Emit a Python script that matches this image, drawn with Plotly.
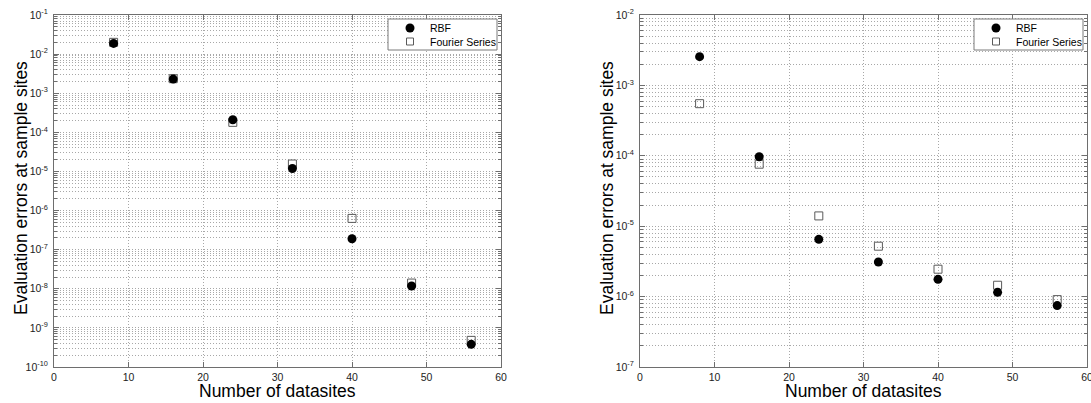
import plotly.graph_objects as go

# ---------------- data ----------------
datasites = [8, 16, 24, 32, 40, 48, 56]

left_rbf = [1.88e-2, 2.3e-3, 2.1e-4, 1.19e-5, 1.9e-7, 1.18e-8, 3.8e-10]
left_fourier = [2.0e-2, 2.35e-3, 1.8e-4, 1.55e-5, 6.3e-7, 1.4e-8, 4.8e-10]

right_rbf = [2.56e-3, 9.7e-5, 6.5e-6, 3.1e-6, 1.76e-6, 1.15e-6, 7.45e-7]
right_fourier = [5.5e-4, 7.6e-5, 1.40e-5, 5.2e-6, 2.45e-6, 1.45e-6, 9.06e-7]

x_ticks = [0, 10, 20, 30, 40, 50, 60]
left_decades = list(range(-10, 0))   # 1e-10 .. 1e-1
right_decades = list(range(-7, -1))  # 1e-7 .. 1e-2

x_title = "Number of datasites"
y_title = "Evaluation errors at sample sites"
names = ["RBF", "Fourier Series"]

# ---------------- figure ----------------
W, H = 1091, 403
FONT = "Liberation Sans, Arial, sans-serif"
AX = "#6e6e6e"
GRID = "#a8a8a8"
SQ = "#5a5a5a"
DOT = "1px,2px"


def px(x):
    return x / W


def py(y):
    return 1 - y / H


top, bottom = 15, 367
panels = [
    dict(l=54, r=501, xa="x", ya="y", rbf=left_rbf, four=left_fourier,
         dec=left_decades),
    dict(l=640, r=1087, xa="x2", ya="y2", rbf=right_rbf, four=right_fourier,
         dec=right_decades),
]

fig = go.Figure()

for p in panels:
    fig.add_trace(go.Scatter(
        x=datasites, y=p["four"], mode="markers", name=names[1],
        xaxis=p["xa"], yaxis=p["ya"], showlegend=False,
        marker=dict(symbol="square-open", size=8, color=SQ,
                    line=dict(width=1))))
    fig.add_trace(go.Scatter(
        x=datasites, y=p["rbf"], mode="markers", name=names[0],
        xaxis=p["xa"], yaxis=p["ya"], showlegend=False,
        marker=dict(symbol="circle", size=9, color="black",
                    line=dict(width=0))))


def yaxis_cfg(decades, domain, anchor):
    lo, hi = decades[0], decades[-1]
    minor_vals = [m * 10.0 ** d for d in range(lo, hi) for m in range(2, 10)]
    return dict(
        type="log", range=[lo, hi], domain=domain, anchor=anchor,
        tickvals=[10.0 ** d for d in decades],
        ticktext=["10<sup>%d</sup>" % d for d in decades],
        tickfont=dict(size=10.5, color="#222222", family=FONT),
        ticks="inside", ticklen=5, tickcolor=AX, ticklabelstandoff=3,
        showline=True, linecolor=AX, linewidth=1, mirror="allticks",
        showgrid=True, gridcolor=GRID, griddash=DOT, gridwidth=1,
        minor=dict(tickvals=minor_vals, showgrid=True, gridcolor=GRID,
                   griddash=DOT, gridwidth=1, ticks="inside",
                   ticklen=3, tickcolor=AX),
        zeroline=False, automargin=False,
    )


def xaxis_cfg(domain, anchor):
    return dict(
        range=[0, 60], domain=domain, anchor=anchor,
        tickvals=x_ticks, ticktext=[str(v) for v in x_ticks],
        tickfont=dict(size=10.5, color="#222222", family=FONT),
        ticks="inside", ticklen=5, tickcolor=AX,
        ticklabeloverflow="allow",
        showline=True, linecolor=AX, linewidth=1, mirror="allticks",
        showgrid=True, gridcolor=GRID, griddash=DOT, gridwidth=1,
        zeroline=False, automargin=False,
    )


ydom = [py(bottom), py(top)]
layout = dict(
    width=W, height=H,
    margin=dict(l=0, r=0, t=0, b=0),
    paper_bgcolor="white", plot_bgcolor="white",
    font=dict(family=FONT), showlegend=False,
)
annotations = []
shapes = []
for i, p in enumerate(panels):
    sfx = "" if i == 0 else "2"
    layout["xaxis" + sfx] = xaxis_cfg([px(p["l"]), px(p["r"])], "y" + sfx)
    layout["yaxis" + sfx] = yaxis_cfg(p["dec"], ydom, "x" + sfx)

    # axis titles
    annotations.append(dict(
        text=x_title, xref="paper", yref="paper",
        x=px((p["l"] + p["r"]) / 2), y=py(391), xanchor="center",
        yanchor="middle", showarrow=False,
        font=dict(size=17.5, color="black", family=FONT)))
    annotations.append(dict(
        text=y_title, xref="paper", yref="paper", textangle=-90,
        x=px(p["l"] - 33), y=py(188), xanchor="center",
        yanchor="middle", showarrow=False,
        font=dict(size=17.5, color="black", family=FONT)))

    # legend box (top-right inside the axes)
    bx1 = p["r"] - 4
    bx0 = bx1 - 109
    by0, by1 = 19, 50
    shapes.append(dict(type="rect", xref="paper", yref="paper",
                       x0=px(bx0), x1=px(bx1), y0=py(by1), y1=py(by0),
                       fillcolor="white", line=dict(color="#7a7a7a", width=1),
                       layer="above"))
    sx = bx0 + 22
    shapes.append(dict(type="circle", xref="paper", yref="paper",
                       x0=px(sx - 4.5), x1=px(sx + 4.5),
                       y0=py(28 + 4.5), y1=py(28 - 4.5),
                       fillcolor="black", line=dict(width=0), layer="above"))
    shapes.append(dict(type="rect", xref="paper", yref="paper",
                       x0=px(sx - 3.5), x1=px(sx + 3.5),
                       y0=py(41.5 + 3.5), y1=py(41.5 - 3.5),
                       fillcolor="white", line=dict(color=SQ, width=1),
                       layer="above"))
    for txt, yy in zip(names, [28, 41.5]):
        annotations.append(dict(
            text=txt, xref="paper", yref="paper",
            x=px(bx0 + 40), y=py(yy), xanchor="left", yanchor="middle",
            showarrow=False,
            font=dict(size=10.5, color="black", family=FONT)))

layout["annotations"] = annotations
layout["shapes"] = shapes
fig.update_layout(**layout)

fig.write_html(
    "out.html",
    config={"displayModeBar": False},
    post_script="document.body.style.margin='0';"
                "document.body.style.overflow='hidden';",
)
